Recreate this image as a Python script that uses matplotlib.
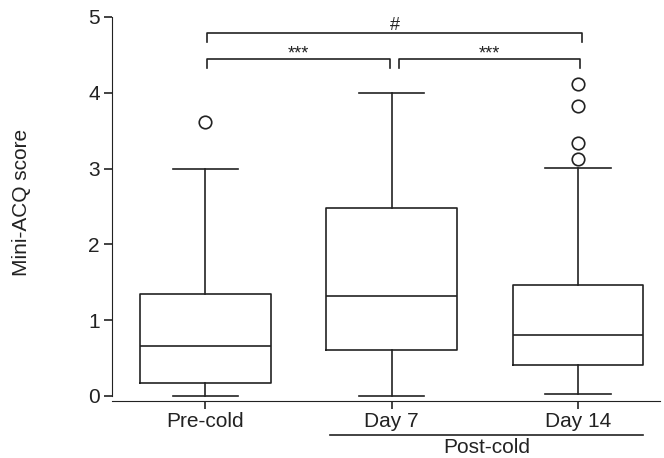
import matplotlib.pyplot as plt

plt.rcParams['font.family'] = ['Liberation Sans', 'DejaVu Sans']

groups = ['Pre-cold', 'Day 7', 'Day 14']
whislo = [0.0, 0.0, 0.02]
q1 = [0.17, 0.61, 0.41]
med = [0.66, 1.32, 0.80]
q3 = [1.35, 2.48, 1.47]
whishi = [3.0, 4.0, 3.01]
fliers = [[3.62], [], [3.13, 3.34, 3.82, 4.12]]

stats = []
for i in range(3):
    stats.append(dict(label=groups[i], whislo=whislo[i], q1=q1[i], med=med[i],
                      q3=q3[i], whishi=whishi[i], fliers=fliers[i]))

col = '#222222'
fig = plt.figure(figsize=(6.64, 4.58), dpi=100)
ax = fig.add_axes([0.169, 0.1245, 0.825, 0.8385])

lw = 1.2
ax.bxp(stats, positions=[1, 2, 3], widths=0.7,
       boxprops=dict(color=col, linewidth=lw),
       medianprops=dict(color=col, linewidth=lw),
       whiskerprops=dict(color=col, linewidth=lw),
       capprops=dict(color=col, linewidth=lw),
       flierprops=dict(marker='o', markerfacecolor='white', markeredgecolor=col,
                       markersize=9, markeredgewidth=1.2))

ax.set_xlim(0.5, 3.44)
ax.set_ylim(-0.066, 5.0)
ax.set_yticks([0, 1, 2, 3, 4, 5])
ax.spines['top'].set_visible(False)
ax.spines['right'].set_visible(False)
ax.spines['left'].set_bounds(0, 5)
ax.spines['left'].set_color(col)
ax.spines['bottom'].set_color(col)
ax.tick_params(axis='both', colors=col, labelsize=15, length=6, width=1.2)
ax.tick_params(axis='x', pad=2)
ax.tick_params(axis='y', pad=3)
ax.set_ylabel('Mini-ACQ score', fontsize=15, color=col)
ax.yaxis.set_label_coords(-0.148, 0.518)


def bracket(x1, x2, y, h, text, off):
    ax.plot([x1, x1, x2, x2], [y - h, y, y, y - h], color=col, lw=1.2, clip_on=False)
    ax.text((x1 + x2) / 2, y + off, text, ha='center', va='bottom', fontsize=13, color=col)


bracket(1.01, 1.99, 4.45, 0.12, '***', -0.05)
bracket(2.04, 3.01, 4.45, 0.12, '***', -0.05)
bracket(1.01, 3.02, 4.79, 0.12, '#', -0.02)

xt = ax.get_xaxis_transform()
ax.plot([1.67, 3.35], [-0.0885, -0.0885], color=col, lw=1.2, clip_on=False, transform=xt)
ax.text(2.51, -0.096, 'Post-cold', ha='center', va='top', fontsize=15, color=col,
        transform=xt)

fig.savefig('out.png', dpi=100)
